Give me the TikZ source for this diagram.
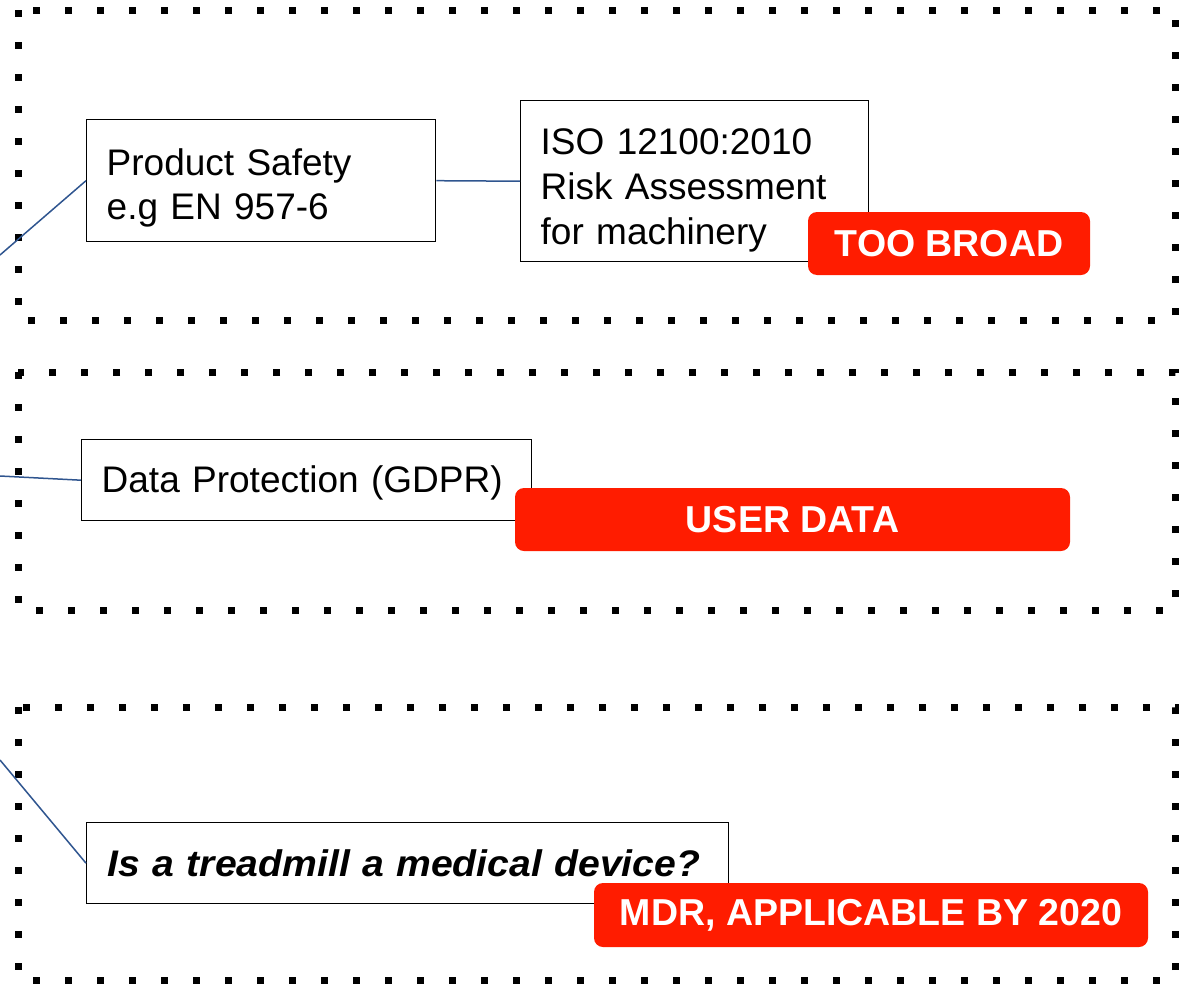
\documentclass[tikz,border=0pt]{standalone}
\usepackage{fontspec}
\setmainfont{Liberation Sans}
\definecolor{tagred}{RGB}{255,28,0}
\definecolor{linkblue}{RGB}{47,85,143}
\begin{document}
\begin{tikzpicture}[x=1pt,y=-1pt,
  frame/.style={line width=7pt, dash pattern=on 7pt off 25pt},
  tbox/.style={draw, line width=1.4pt, fill=white, anchor=north west,
    inner xsep=20pt, inner ysep=0pt, align=left,
    font=\fontsize{37}{44}\selectfont},
  tag/.style={fill=tagred, rounded corners=9pt, text=white, inner sep=0pt,
    font=\bfseries\fontsize{37.5}{40}\selectfont},
  link/.style={draw=linkblue, line width=1.5pt}]
\useasboundingbox (0,0) rectangle (1182,985);
% dotted frames
\draw[frame] (18,10) rectangle (1175,320);
\draw[frame] (18,372) rectangle (1175,610);
\draw[frame] (18,707) rectangle (1175,980);
% free ends
\coordinate (e1) at (0,255);
\coordinate (e2) at (0,476);
\coordinate (e3) at (0,760);
% boxes
\node[tbox, text width=309pt, minimum height=122pt] (ps) at (86,119)
  {\rule{0pt}{41pt}Product Safety\\e.g EN 957-6};
\node[tbox, text width=308pt, minimum height=161pt, font=\fontsize{37}{45}\selectfont] (iso) at (520,100)
  {\rule{0pt}{44pt}ISO 12100:2010\\Risk Assessment\\for machinery};
\node[tbox, text width=410pt, minimum height=81pt] (dp) at (81,439)
  {\rule{0pt}{33pt}Data Protection (GDPR)};
\node[tbox, inner xsep=21pt, text width=600pt, minimum height=81pt, font=\bfseries\itshape\fontsize{37}{44}\selectfont\addfontfeature{FakeStretch=1.058}] (tm) at (86,822)
  {Is a treadmill a medical device?};
% connectors
\draw[link] (e1) -- (ps.west);
\draw[link] (ps.east) -- (iso.west);
\draw[link] (e2) -- (dp.west);
\draw[link] (e3) -- (tm.west);
% tags
\node[tag, minimum width=282pt, minimum height=63pt] (t1) at (949,243.5) {TOO BROAD};
\node[tag, minimum width=555pt, minimum height=63pt] (t2) at (792.5,519.5) {USER DATA};
\node[tag, minimum width=554pt, minimum height=64pt] (t3) at (871,915) {MDR, APPLICABLE BY 2020};
\end{tikzpicture}
\end{document}
